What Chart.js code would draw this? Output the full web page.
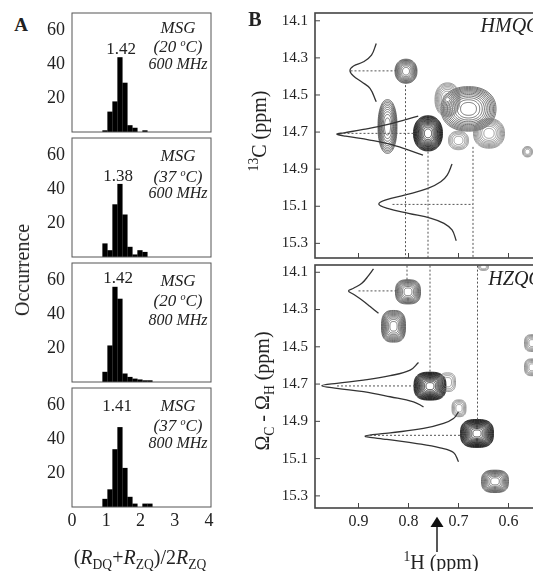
<!DOCTYPE html>
<html lang="en">
<head>
<meta charset="UTF-8">
<title>MSG relaxation ratios and HMQC / HZQC spectra</title>
<script src="https://cdn.jsdelivr.net/npm/chart.js"></script>
<style>
  html, body { margin: 0; padding: 0; background: #fff; overflow: hidden; width: 533px; height: 571px; }
  body { position: relative; font-family: "Liberation Serif", "DejaVu Serif", serif; color: #222; }
  canvas { position: absolute; }
  .t { position: absolute; white-space: nowrap; line-height: 1; transform: translate(-50%, -50%); }
  .b { font-weight: bold; }
  .i { font-style: italic; }
  .rot { transform: translate(-50%, -50%) rotate(-90deg); }
  sup, sub { line-height: 0; font-size: 0.68em; }
  sup.deg { font-size: 0.6em; vertical-align: 0.55em; }
</style>
</head>
<body>
  <canvas id="h1" width="185" height="154" style="left:30px;top:8px"></canvas>
  <canvas id="h2" width="185" height="154" style="left:30px;top:133px"></canvas>
  <canvas id="h3" width="185" height="154" style="left:30px;top:258px"></canvas>
  <canvas id="h4" width="185" height="154" style="left:30px;top:383px"></canvas>
  <canvas id="hmqc" width="340" height="255" style="left:232px;top:8px"></canvas>
  <canvas id="hzqc" width="340" height="273" style="left:232px;top:260px"></canvas>

  <div class="t b" style="left:21px;top:24px;font-size:19px">A</div>
  <div class="t b" style="left:255px;top:19px;font-size:20px">B</div>

  <!-- panel A annotations -->
  <div class="t" style="left:121px;top:48px;font-size:17px">1.42</div>
  <div class="t i" style="left:178px;top:27px;font-size:17px">MSG</div>
  <div class="t i" style="left:178px;top:46px;font-size:17px">(20 <sup class="deg">o</sup>C)</div>
  <div class="t i" style="left:178px;top:64px;font-size:16px">600 MHz</div>

  <div class="t" style="left:118px;top:175px;font-size:17px">1.38</div>
  <div class="t i" style="left:178px;top:155px;font-size:17px">MSG</div>
  <div class="t i" style="left:178px;top:176px;font-size:17px">(37 <sup class="deg">o</sup>C)</div>
  <div class="t i" style="left:178px;top:193px;font-size:16px">600 MHz</div>

  <div class="t" style="left:118px;top:277px;font-size:17px">1.42</div>
  <div class="t i" style="left:178px;top:280px;font-size:17px">MSG</div>
  <div class="t i" style="left:178px;top:300px;font-size:17px">(20 <sup class="deg">o</sup>C)</div>
  <div class="t i" style="left:178px;top:320px;font-size:16px">800 MHz</div>

  <div class="t" style="left:117px;top:405px;font-size:17px">1.41</div>
  <div class="t i" style="left:178px;top:405px;font-size:17px">MSG</div>
  <div class="t i" style="left:178px;top:425px;font-size:17px">(37 <sup class="deg">o</sup>C)</div>
  <div class="t i" style="left:178px;top:443px;font-size:16px">800 MHz</div>

  <div class="t rot" style="left:22px;top:270px;font-size:20px">Occurrence</div>
  <div class="t" style="left:140px;top:557px;font-size:20px">(<span class="i">R</span><sub>DQ</sub>+<span class="i">R</span><sub>ZQ</sub>)/2<span class="i">R</span><sub>ZQ</sub></div>

  <!-- panel B labels -->
  <div class="t i" style="left:510px;top:25px;font-size:20px">HMQC</div>
  <div class="t i" style="left:515px;top:278px;font-size:20px">HZQC</div>
  <div class="t rot" style="left:259px;top:131px;font-size:20px"><sup>13</sup>C (ppm)</div>
  <div class="t rot" style="left:262px;top:391px;font-size:20px">&Omega;<sub>C</sub> - &Omega;<sub>H</sub> (ppm)</div>
  <div class="t" style="left:441px;top:562px;font-size:20px"><sup>1</sup>H (ppm)</div>
  <svg style="position:absolute;left:426px;top:512px" width="22" height="44">
    <polygon points="11,4.7 4.5,15 17.5,15" fill="#111"/>
    <line x1="11" y1="14" x2="11" y2="40" stroke="#111" stroke-width="1.4"/>
  </svg>

<script>
  // ---------- Panel A: histograms of (R_DQ + R_ZQ) / 2 R_ZQ ----------
  const binCenters = [0.963, 1.109, 1.255, 1.401, 1.547, 1.693, 1.839, 1.985, 2.131, 2.277, 2.423];
  const msg20at600 = [1, 12, 18, 44, 29, 4, 2.5, 0, 1, 0, 0];
  const msg37at600 = [8, 4, 31, 43, 25, 6, 1.5, 4, 3, 0, 0];
  const msg20at800 = [6, 21.5, 56, 49, 5, 3, 2, 1.5, 1, 1, 0];
  const msg37at800 = [4.8, 10.4, 34, 47, 23, 6, 2, 0, 2, 2, 0];
  const histXTicks = [0, 1, 2, 3, 4];
  const histYTicks = [20, 40, 60];

  // ---------- Panel B: HMQC cross peaks (1H ppm, 13C ppm, half widths, contour levels) ----------
  const hmqcPeakH = [0.805, 0.842, 0.761, 0.680, 0.639, 0.722, 0.700, 0.562];
  const hmqcPeakC = [14.372, 14.670, 14.707, 14.575, 14.707, 14.525, 14.745, 14.806];
  const hmqcPeakWH = [0.022, 0.019, 0.029, 0.055, 0.031, 0.025, 0.020, 0.010];
  const hmqcPeakWC = [0.065, 0.145, 0.095, 0.120, 0.080, 0.090, 0.050, 0.028];
  const hmqcPeakLevels = [10, 10, 16, 12, 9, 8, 5, 4];

  // HZQC cross peaks
  const hzqcPeakH = [0.801, 0.830, 0.757, 0.722, 0.699, 0.663, 0.627, 0.553, 0.553, 0.650];
  const hzqcPeakC = [14.205, 14.390, 14.711, 14.690, 14.830, 14.965, 15.222, 14.480, 14.610, 14.070];
  const hzqcPeakWH = [0.025, 0.024, 0.032, 0.016, 0.014, 0.033, 0.027, 0.015, 0.015, 0.010];
  const hzqcPeakWC = [0.065, 0.085, 0.075, 0.050, 0.045, 0.075, 0.060, 0.045, 0.045, 0.020];
  const hzqcPeakLevels = [10, 11, 16, 4, 5, 16, 10, 6, 6, 3];

  // 1D slices drawn next to the spectra
  const hmqcSliceAH = [0.8645, 0.874, 0.890, 0.910, 0.917, 0.910, 0.894, 0.877, 0.8645];
  const hmqcSliceAC = [14.222, 14.285, 14.321, 14.344, 14.369, 14.398, 14.429, 14.465, 14.537];
  const hmqcSliceBH = [0.7806, 0.8387, 0.8903, 0.929, 0.9432, 0.9258, 0.8774, 0.8258, 0.771];
  const hmqcSliceBC = [14.614, 14.657, 14.686, 14.704, 14.711, 14.722, 14.743, 14.774, 14.824];
  const hmqcSliceCH = [0.7129, 0.7226, 0.7355, 0.7613, 0.8065, 0.8452, 0.8594, 0.8419, 0.800, 0.7548, 0.729, 0.7129, 0.7045];
  const hmqcSliceCC = [14.872, 14.932, 14.968, 15.004, 15.039, 15.066, 15.088, 15.111, 15.138, 15.165, 15.192, 15.228, 15.286];

  const hzqcSliceAH = [0.870, 0.880, 0.8933, 0.910, 0.920, 0.910, 0.8933, 0.8767, 0.860];
  const hzqcSliceAC = [14.082, 14.118, 14.159, 14.186, 14.200, 14.218, 14.249, 14.284, 14.320];
  const hzqcSliceBH = [0.780, 0.7967, 0.8367, 0.890, 0.9433, 0.9733, 0.9433, 0.890, 0.8367, 0.790, 0.770];
  const hzqcSliceBC = [14.584, 14.625, 14.655, 14.679, 14.696, 14.709, 14.723, 14.741, 14.768, 14.795, 14.822];
  const hzqcSliceCH = [0.700, 0.710, 0.730, 0.770, 0.8367, 0.8867, 0.8433, 0.7833, 0.7367, 0.710, 0.700];
  const hzqcSliceCC = [14.849, 14.885, 14.911, 14.938, 14.962, 14.979, 14.997, 15.019, 15.042, 15.067, 15.117];

  // dotted guide lines
  const hmqcGuideC = [14.370, 14.707, 15.090];
  const hmqcGuideFrom = [0.916, 0.930, 0.832];
  const hmqcGuideTo = [0.826, 0.787, 0.671];
  const hmqcDropH = [0.806, 0.761, 0.671];
  const hmqcDropFrom = [14.447, 14.806, 14.780];

  const hzqcGuideC = [14.200, 14.710, 14.975];
  const hzqcGuideFrom = [0.900, 0.943, 0.877];
  const hzqcGuideTo = [0.823, 0.780, 0.690];
  const hzqcDropH = [0.803, 0.757, 0.662];
  const hzqcDropTo = [14.150, 14.643, 14.900];

  const ppmXTicks = [0.9, 0.8, 0.7, 0.6, 0.5];
  const ppmYTicks = [14.1, 14.3, 14.5, 14.7, 14.9, 15.1, 15.3];

  const serif = '"Liberation Serif", "DejaVu Serif", serif';

  // keep the plot area exactly where the layout puts it (no label overhang padding)
  function noPad(s) {
    s.paddingTop = 0; s.paddingBottom = 0; s.paddingLeft = 0; s.paddingRight = 0;
  }

  // frame around the plot area, with optional inward ticks
  const framePlugin = {
    id: 'frame',
    afterDraw(chart, args, opts) {
      const { ctx, chartArea: a } = chart;
      ctx.save();
      ctx.strokeStyle = opts.color;
      if (opts.ticks) {
        ctx.lineWidth = 1;
        const x = chart.scales.x, y = chart.scales.y;
        x.ticks.forEach(t => {
          const px = x.getPixelForValue(t.value);
          if (px < a.left || px > a.right) return;
          ctx.beginPath(); ctx.moveTo(px, a.bottom); ctx.lineTo(px, a.bottom - 5); ctx.stroke();
        });
        y.ticks.forEach(t => {
          const py = y.getPixelForValue(t.value);
          ctx.beginPath(); ctx.moveTo(a.left, py); ctx.lineTo(a.left + 5, py); ctx.stroke();
        });
      }
      ctx.lineWidth = opts.width;
      ctx.strokeRect(a.left, a.top, a.right - a.left, a.bottom - a.top);
      ctx.restore();
    }
  };

  // contour rings for each cross peak
  const contourPlugin = {
    id: 'contours',
    beforeDatasetsDraw(chart, args, opts) {
      const { ctx, chartArea: a, scales: { x, y } } = chart;
      ctx.save();
      ctx.beginPath();
      ctx.rect(a.left, a.top, a.right - a.left, a.bottom - a.top);
      ctx.clip();
      opts.h.forEach((h, i) => {
        const c = opts.c[i];
        const cx = x.getPixelForValue(h), cy = y.getPixelForValue(c);
        const rx = Math.abs(x.getPixelForValue(h + opts.wh[i]) - cx);
        const ry = Math.abs(y.getPixelForValue(c + opts.wc[i]) - cy);
        const n = opts.levels[i];
        ctx.strokeStyle = n >= 14 ? '#161616' : n >= 10 ? '#505050' : '#7d7d7d';
        ctx.lineWidth = 0.8;
        for (let k = n; k >= 1; k--) {
          const s = Math.sqrt(k / n);
          ctx.beginPath();
          for (let t = 0; t <= 72; t++) {
            const th = t / 72 * 2 * Math.PI;
            const co = Math.cos(th), si = Math.sin(th);
            const px = cx + s * rx * Math.sign(co) * Math.pow(Math.abs(co), 2 / opts.p);
            const py = cy + s * ry * Math.sign(si) * Math.pow(Math.abs(si), 2 / opts.p);
            if (t === 0) ctx.moveTo(px, py); else ctx.lineTo(px, py);
          }
          ctx.closePath();
          ctx.stroke();
        }
        if (n >= 8) {
          ctx.fillStyle = '#fff';
          ctx.beginPath(); ctx.arc(cx, cy, 1.6, 0, 2 * Math.PI); ctx.fill();
        }
      });
      ctx.restore();
    }
  };

  function histChart(id, values, showX) {
    return new Chart(document.getElementById(id), {
      type: 'bar',
      data: {
        datasets: [{
          data: binCenters.map((c, i) => ({ x: c, y: values[i] })),
          backgroundColor: '#000',
          borderWidth: 0,
          barPercentage: 1.04,
          categoryPercentage: 1
        }]
      },
      options: {
        responsive: false,
        animation: false,
        events: [],
        layout: { padding: { top: 5, right: 4, left: 0, bottom: 0 } },
        plugins: {
          legend: { display: false },
          tooltip: { enabled: false },
          frame: { color: '#555', width: 1 }
        },
        scales: {
          x: {
            type: 'linear', min: 0, max: 4.06, offset: false,
            grid: { display: false, drawTicks: false, offset: false },
            border: { display: false },
            afterBuildTicks: s => { s.ticks = histXTicks.map(v => ({ value: v })); },
            afterFit: s => { s.height = 30; noPad(s); },
            ticks: { display: showX, padding: 3, color: '#222', font: { family: serif, size: 18 } }
          },
          y: {
            min: 0, max: 70,
            grid: { display: false, drawTicks: false },
            border: { display: false },
            afterBuildTicks: s => { s.ticks = histYTicks.map(v => ({ value: v })); },
            afterFit: s => { s.width = 42; noPad(s); },
            ticks: { padding: 7, color: '#222', font: { family: serif, size: 18 } }
          }
        }
      },
      plugins: [framePlugin]
    });
  }

  histChart('h1', msg20at600, false);
  histChart('h2', msg37at600, false);
  histChart('h3', msg20at800, false);
  histChart('h4', msg37at800, true);

  const pts = (hs, cs) => hs.map((h, i) => ({ x: h, y: cs[i] }));
  const slice = (hs, cs) => ({
    data: pts(hs, cs), showLine: true, pointRadius: 0,
    borderColor: '#333', borderWidth: 1.3, tension: 0.4
  });
  const dotted = data => ({
    data, showLine: true, pointRadius: 0,
    borderColor: '#555', borderWidth: 1, borderDash: [2, 2]
  });

  function spectrumChart(id, cfg) {
    const datasets = [];
    cfg.guideC.forEach((c, i) => datasets.push(dotted([{ x: cfg.guideFrom[i], y: c }, { x: cfg.guideTo[i], y: c }])));
    cfg.dropH.forEach((h, i) => datasets.push(dotted([{ x: h, y: cfg.dropA[i] }, { x: h, y: cfg.dropB[i] }])));
    cfg.slices.forEach(s => datasets.push(slice(s[0], s[1])));
    return new Chart(document.getElementById(id), {
      type: 'scatter',
      data: { datasets },
      options: {
        responsive: false,
        animation: false,
        events: [],
        layout: { padding: { top: 5, right: 0, left: 0, bottom: 0 } },
        plugins: {
          legend: { display: false },
          tooltip: { enabled: false },
          frame: { color: '#444', width: 1.6, ticks: true },
          contours: { h: cfg.peakH, c: cfg.peakC, wh: cfg.peakWH, wc: cfg.peakWC, levels: cfg.levels, p: cfg.squareness }
        },
        scales: {
          x: {
            type: 'linear', reverse: true, min: 0.473, max: 0.987,
            grid: { display: false, drawTicks: false },
            border: { display: false },
            afterBuildTicks: s => { s.ticks = ppmXTicks.map(v => ({ value: v })); },
            afterFit: s => { s.height = cfg.xHeight; noPad(s); },
            ticks: { display: cfg.showX, padding: 4, color: '#222', font: { family: serif, size: 16 }, callback: v => v.toFixed(1) }
          },
          y: {
            type: 'linear', reverse: true, min: cfg.yMin, max: cfg.yMax,
            grid: { display: false, drawTicks: false },
            border: { display: false },
            afterBuildTicks: s => { s.ticks = ppmYTicks.map(v => ({ value: v })); },
            afterFit: s => { s.width = 83; noPad(s); },
            ticks: { padding: 7, color: '#222', font: { family: serif, size: 15 }, callback: v => v.toFixed(1) }
          }
        }
      },
      plugins: [contourPlugin, framePlugin]
    });
  }

  spectrumChart('hmqc', {
    peakH: hmqcPeakH, peakC: hmqcPeakC, peakWH: hmqcPeakWH, peakWC: hmqcPeakWC, levels: hmqcPeakLevels,
    squareness: 2.2,
    guideC: hmqcGuideC, guideFrom: hmqcGuideFrom, guideTo: hmqcGuideTo,
    dropH: hmqcDropH, dropA: hmqcDropFrom, dropB: hmqcDropH.map(() => 15.4),
    slices: [[hmqcSliceAH, hmqcSliceAC], [hmqcSliceBH, hmqcSliceBC], [hmqcSliceCH, hmqcSliceCC]],
    yMin: 14.058, yMax: 15.379, showX: false, xHeight: 5
  });

  spectrumChart('hzqc', {
    peakH: hzqcPeakH, peakC: hzqcPeakC, peakWH: hzqcPeakWH, peakWC: hzqcPeakWC, levels: hzqcPeakLevels,
    squareness: 2.8,
    guideC: hzqcGuideC, guideFrom: hzqcGuideFrom, guideTo: hzqcGuideTo,
    dropH: hzqcDropH, dropA: hzqcDropH.map(() => 14.0), dropB: hzqcDropTo,
    slices: [[hzqcSliceAH, hzqcSliceAC], [hzqcSliceBH, hzqcSliceBC], [hzqcSliceCH, hzqcSliceCC]],
    yMin: 14.061, yMax: 15.365, showX: true, xHeight: 25
  });
</script>
</body>
</html>
